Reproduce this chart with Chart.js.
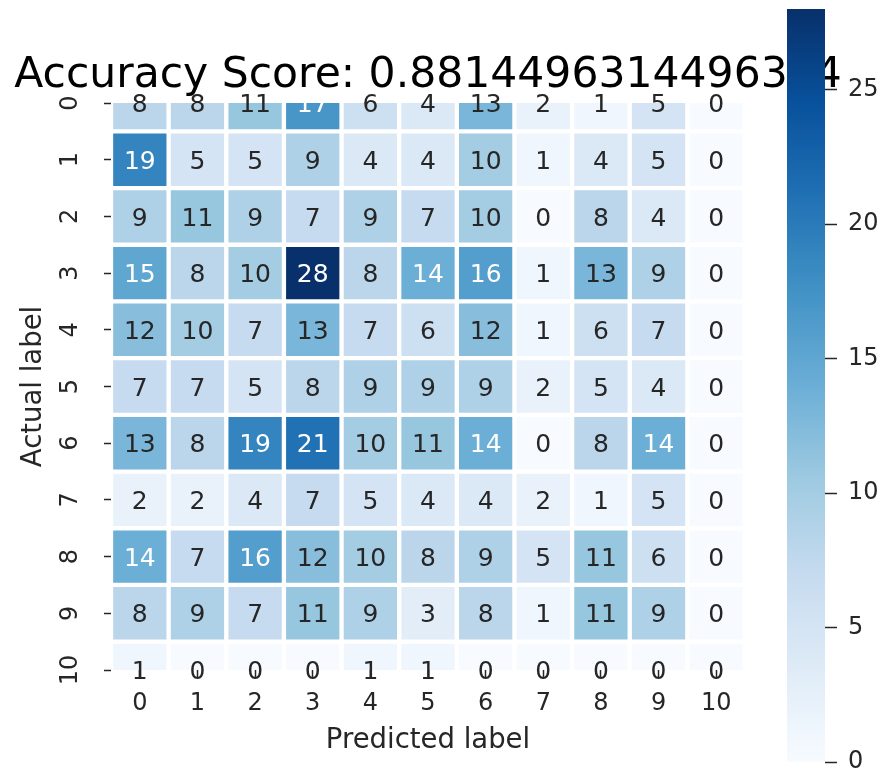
<!DOCTYPE html>
<html>
<head>
<meta charset="utf-8">
<title>Confusion matrix</title>
<script src="https://cdn.jsdelivr.net/npm/chart.js@4/dist/chart.umd.min.js"></script>
<style>
  html, body { margin: 0; padding: 0; background: #ffffff; }
  #wrap { position: relative; width: 879px; height: 777px; overflow: hidden; }
  #wrap canvas { position: absolute; left: 0; top: 0; }
  #cbar { pointer-events: none; }
</style>
</head>
<body>
<div id="wrap">
  <canvas id="cm" width="879" height="777"></canvas>
  <canvas id="cbar" width="879" height="777"></canvas>
</div>
<script>
// ---- data ----
const titleText = 'Accuracy Score: 0.8814496314496314';
const actualLabels = ['0', '1', '2', '3', '4', '5', '6', '7', '8', '9', '10'];
const predictedLabels = ['0', '1', '2', '3', '4', '5', '6', '7', '8', '9', '10'];

// one array per actual class: counts for predicted classes 0..10
const actual0  = [8, 8, 11, 17, 6, 4, 13, 2, 1, 5, 0];
const actual1  = [19, 5, 5, 9, 4, 4, 10, 1, 4, 5, 0];
const actual2  = [9, 11, 9, 7, 9, 7, 10, 0, 8, 4, 0];
const actual3  = [15, 8, 10, 28, 8, 14, 16, 1, 13, 9, 0];
const actual4  = [12, 10, 7, 13, 7, 6, 12, 1, 6, 7, 0];
const actual5  = [7, 7, 5, 8, 9, 9, 9, 2, 5, 4, 0];
const actual6  = [13, 8, 19, 21, 10, 11, 14, 0, 8, 14, 0];
const actual7  = [2, 2, 4, 7, 5, 4, 4, 2, 1, 5, 0];
const actual8  = [14, 7, 16, 12, 10, 8, 9, 5, 11, 6, 0];
const actual9  = [8, 9, 7, 11, 9, 3, 8, 1, 11, 9, 0];
const actual10 = [1, 0, 0, 0, 1, 1, 0, 0, 0, 0, 0];
const counts = [actual0, actual1, actual2, actual3, actual4, actual5,
                actual6, actual7, actual8, actual9, actual10];

const colorbarTicks = [0, 5, 10, 15, 20, 25];

// ---- styling ----
const FONT = 'DejaVu Sans';
const INK = '#262626';
const TICK_SIZE = 24;
const ANNOT_SIZE = 25;
const LABEL_SIZE = 27.5;
const TITLE_SIZE = 42.5;

// "Blues" colour ramp
const BLUES = ['#f7fbff', '#deebf7', '#c6dbef', '#9ecae1', '#6baed6',
               '#4292c6', '#2171b5', '#08519c', '#08306b'];

const allCounts = counts.flat();
const vmin = Math.min(...allCounts);
const vmax = Math.max(...allCounts);

function hexToRgb(h) {
  return [1, 3, 5].map(i => parseInt(h.slice(i, i + 2), 16) / 255);
}
const BLUES_RGB = BLUES.map(hexToRgb);

function blues(t) {
  t = Math.max(0, Math.min(1, t));
  const pos = t * (BLUES_RGB.length - 1);
  const i = Math.min(Math.floor(pos), BLUES_RGB.length - 2);
  const f = pos - i;
  return BLUES_RGB[i].map((a, k) => a + (BLUES_RGB[i + 1][k] - a) * f);
}

function cellColor(v) {
  const [r, g, b] = blues((v - vmin) / (vmax - vmin));
  return `rgb(${Math.round(r * 255)}, ${Math.round(g * 255)}, ${Math.round(b * 255)})`;
}

// light text on dark cells, dark text on light cells
function textColorFor(v) {
  const lin = c => (c <= 0.03928 ? c / 12.92 : Math.pow((c + 0.055) / 1.055, 2.4));
  const [r, g, b] = blues((v - vmin) / (vmax - vmin)).map(lin);
  const lum = 0.2126 * r + 0.7152 * g + 0.0722 * b;
  return lum > 0.408 ? INK : '#ffffff';
}

// ---- plugins ----
const whiteBackground = {
  id: 'whiteBackground',
  beforeDraw(chart) {
    const { ctx } = chart;
    ctx.save();
    ctx.fillStyle = '#ffffff';
    ctx.fillRect(0, 0, chart.width, chart.height);
    ctx.restore();
  }
};

const cellValues = {
  id: 'cellValues',
  afterDatasetsDraw(chart) {
    const { ctx, scales: { x, y } } = chart;
    ctx.save();
    ctx.font = `${ANNOT_SIZE}px "${FONT}"`;
    ctx.textAlign = 'center';
    ctx.textBaseline = 'alphabetic';
    counts.forEach((row, r) => {
      row.forEach((v, c) => {
        ctx.fillStyle = textColorFor(v);
        ctx.fillText(String(v), x.getPixelForValue(c),
                     y.getPixelForValue(r + 0.5) + 0.3645 * ANNOT_SIZE);
      });
    });
    ctx.restore();
  }
};

const scoreTitle = {
  id: 'scoreTitle',
  afterDraw(chart) {
    const { ctx, chartArea } = chart;
    ctx.save();
    ctx.font = `${TITLE_SIZE}px "${FONT}"`;
    ctx.fillStyle = '#000000';
    ctx.textAlign = 'center';
    ctx.textBaseline = 'alphabetic';
    ctx.fillText(titleText, (chartArea.left + chartArea.right) / 2, chartArea.top - 16);
    ctx.restore();
  }
};

// ---- heatmap ----
const cellDatasets = counts.map((row, r) => ({
  label: actualLabels[r],
  data: row.map(() => [r, r + 1]),
  backgroundColor: row.map(cellColor),
  borderColor: '#ffffff',
  borderWidth: 2.5,
  borderSkipped: false,
  grouped: false,
  categoryPercentage: 1,
  barPercentage: 1,
  clip: 0
}));

const tickGrid = {
  drawOnChartArea: false,
  drawTicks: true,
  tickLength: 7,
  tickColor: INK,
  tickWidth: 1.5
};

new Chart(document.getElementById('cm'), {
  type: 'bar',
  data: { labels: predictedLabels, datasets: cellDatasets },
  options: {
    responsive: false,
    animation: false,
    devicePixelRatio: 1,
    events: [],
    layout: { padding: { top: 103, right: 134, left: 0, bottom: 0 } },
    plugins: {
      legend: { display: false },
      tooltip: { enabled: false },
      title: { display: false }
    },
    scales: {
      x: {
        type: 'category',
        offset: true,
        grid: Object.assign({ offset: false }, tickGrid),
        border: { display: false },
        ticks: {
          color: INK,
          font: { family: FONT, size: TICK_SIZE },
          padding: 12,
          maxRotation: 0,
          autoSkip: false
        },
        title: {
          display: true,
          text: 'Predicted label',
          color: INK,
          font: { family: FONT, size: LABEL_SIZE },
          padding: { top: 0, bottom: 20 }
        },
        afterFit: s => { s.height = 107; }
      },
      y: {
        type: 'linear',
        reverse: true,
        min: 0.5,
        max: 10.5,
        afterBuildTicks: s => { s.ticks = actualLabels.map((_, i) => ({ value: i + 0.5 })); },
        grid: tickGrid,
        border: { display: false },
        ticks: {
          color: INK,
          font: { family: FONT, size: TICK_SIZE },
          padding: 18,
          minRotation: 90,
          maxRotation: 90,
          crossAlign: 'center',
          autoSkip: false,
          callback: (value, index) => actualLabels[index]
        },
        title: {
          display: true,
          text: 'Actual label',
          color: INK,
          font: { family: FONT, size: LABEL_SIZE },
          padding: { top: 17, bottom: 0 }
        },
        afterFit: s => { s.width = 111; }
      }
    }
  },
  plugins: [whiteBackground, cellValues, scoreTitle]
});

// ---- colour bar ----
new Chart(document.getElementById('cbar'), {
  type: 'bar',
  data: {
    labels: [''],
    datasets: [{
      data: [[vmin, vmax]],
      backgroundColor(ctx) {
        const chart = ctx.chart;
        const s = chart.scales.y;
        if (!chart.chartArea || !s) return BLUES[4];
        const g = chart.ctx.createLinearGradient(0, s.getPixelForValue(vmin), 0, s.getPixelForValue(vmax));
        BLUES.forEach((c, i) => g.addColorStop(i / (BLUES.length - 1), c));
        return g;
      },
      borderWidth: 0,
      categoryPercentage: 1,
      barPercentage: 1
    }]
  },
  options: {
    responsive: false,
    animation: false,
    devicePixelRatio: 1,
    events: [],
    layout: { padding: { left: 787, top: 9, bottom: 15, right: 0 } },
    plugins: { legend: { display: false }, tooltip: { enabled: false } },
    scales: {
      x: { display: false },
      y: {
        position: 'right',
        min: vmin,
        max: vmax,
        afterBuildTicks: s => { s.ticks = colorbarTicks.map(v => ({ value: v })); },
        grid: { drawOnChartArea: false, drawTicks: true, tickLength: 12, tickColor: INK, tickWidth: 1.5 },
        border: { display: false },
        ticks: {
          color: INK,
          font: { family: FONT, size: TICK_SIZE },
          padding: 11,
          autoSkip: false
        },
        afterFit: s => {
          s.width = 54;
          s.paddingTop = 0;
          s.paddingBottom = 0;
        }
      }
    }
  }
});
</script>
</body>
</html>
